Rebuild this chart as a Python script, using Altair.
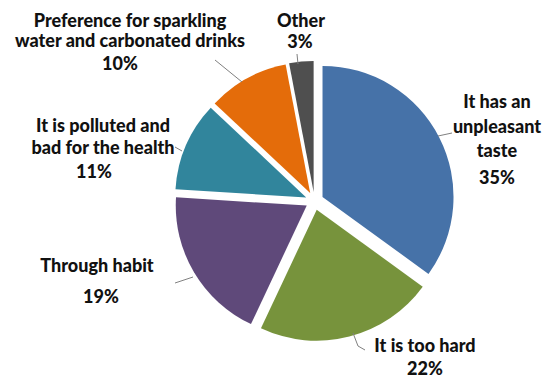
import altair as alt
import pandas as pd

# ---- data ----
categories = [
    "It has an unpleasant taste",
    "It is too hard",
    "Through habit",
    "It is polluted and bad for the health",
    "Preference for sparkling water and carbonated drinks",
    "Other",
]
values = [35, 22, 19, 11, 10, 3]
pct_labels = ["35%", "22%", "19%", "11%", "10%", "3%"]
name_lines = [
    ["It has an", "unpleasant", "taste"],
    ["It is too hard"],
    ["Through habit"],
    ["It is polluted and", "bad for the health"],
    ["Preference for sparkling", "water and carbonated drinks"],
    ["Other"],
]
colors = ["#4672A8", "#77933C", "#5F497A", "#31859C", "#E46C0A", "#4F4F4F"]

# ---- layout (image pixel coordinates) ----
CX, CY, R, EXPLODE = 314.5, 201.0, 131, 9
name_pos = [(497, 103, 24.5), (425, 347, 0), (97, 267, 0), (103, 127, 22), (130, 22, 20), (301, 22, 0)]
pct_pos = [(497, 179), (425, 370), (101, 298), (94, 173), (120, 65), (300, 43)]
leaders = [
    (438, 136, 452, 133),
    (353, 333, 358, 346),
    (358, 346, 365, 350),
    (175, 283, 193, 277),
    (175, 147, 182, 151),
    (215, 60, 242, 82),
    (297, 54, 298, 64),
]

W, H = 537, 370
XD = [8, 8 + W]
YD = [8, 8 + H]

slices = pd.DataFrame({"category": categories, "value": values, "order": range(len(values))})

xs = alt.Scale(domain=XD)
ys = alt.Scale(domain=YD, reverse=True)

pie = (
    alt.Chart(slices)
    .transform_window(cum="sum(value)", sort=[alt.SortField("order")], frame=[None, 0])
    .transform_joinaggregate(total="sum(value)")
    .transform_calculate(
        t1="datum.cum / datum.total * 2 * PI",
        t0="(datum.cum - datum.value) / datum.total * 2 * PI",
    )
    .transform_calculate(mid="(datum.t0 + datum.t1) / 2")
    .transform_calculate(
        cx=f"{CX} + {EXPLODE} * sin(datum.mid)",
        cy=f"{CY} - {EXPLODE} * cos(datum.mid)",
    )
    .mark_arc(radius=R)
    .encode(
        x=alt.X("cx:Q", scale=xs, axis=None),
        y=alt.Y("cy:Q", scale=ys, axis=None),
        theta=alt.Theta("t0:Q", scale=None, stack=None),
        theta2="t1:Q",
        color=alt.Color("category:N", scale=alt.Scale(domain=categories, range=colors), legend=None),
    )
)

rows = []
for lines, (x, y, lh) in zip(name_lines, name_pos):
    for i, t in enumerate(lines):
        rows.append({"text": t, "x": x, "y": y + i * lh})
for t, (x, y) in zip(pct_labels, pct_pos):
    rows.append({"text": t, "x": x, "y": y})
text_df = pd.DataFrame(rows)

texts = (
    alt.Chart(text_df)
    .mark_text(font="Lato", fontWeight=900, fontSize=18, color="#111111", align="center", baseline="middle")
    .encode(
        x=alt.X("x:Q", scale=xs, axis=None),
        y=alt.Y("y:Q", scale=ys, axis=None),
        text="text:N",
    )
)

lead_df = pd.DataFrame(leaders, columns=["x", "y", "x2", "y2"])
rules = (
    alt.Chart(lead_df)
    .mark_rule(color="#808080", strokeWidth=1)
    .encode(
        x=alt.X("x:Q", scale=xs, axis=None),
        y=alt.Y("y:Q", scale=ys, axis=None),
        x2="x2:Q",
        y2="y2:Q",
    )
)

chart = (
    alt.layer(pie, rules, texts)
    .properties(width=W, height=H, autosize=alt.AutoSizeParams(type="none"), padding=0)
    .configure_view(stroke=None)
)

chart.save("out.html", embed_options={"renderer": "svg", "actions": False})
